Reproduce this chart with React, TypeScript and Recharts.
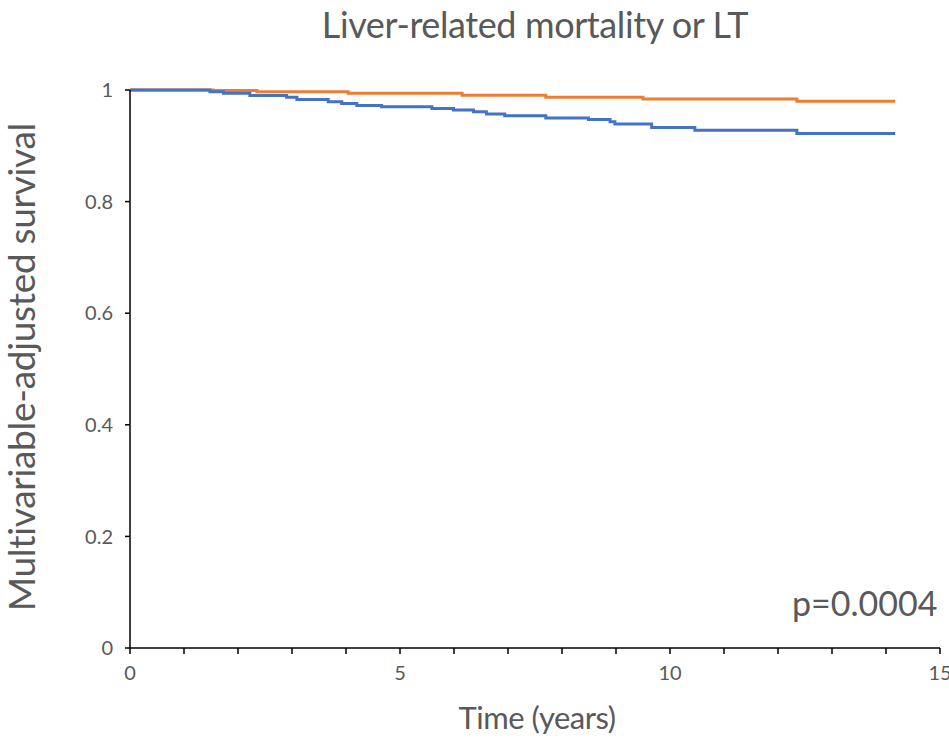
import React from 'react';
import { LineChart, Line, XAxis, YAxis } from 'recharts';

// Kaplan-Meier style step curves (time in years, survival)
const orangeTimes = [0, 1.54, 2.35, 4.04, 6.15, 7.7, 9.5, 12.35, 14.17];
const orangeSurv = [1, 0.999, 0.997, 0.994, 0.9905, 0.987, 0.984, 0.98, 0.98];

const blueTimes = [0, 1.48, 1.73, 2.22, 2.9, 3.09, 3.67, 3.92, 4.2, 4.66, 5.59, 5.99, 6.36, 6.6, 6.94, 7.7, 8.49, 8.89, 8.98, 9.66, 10.46, 12.35, 14.17];
const blueSurv = [1, 0.997, 0.994, 0.99, 0.987, 0.983, 0.979, 0.976, 0.972, 0.97, 0.967, 0.964, 0.961, 0.957, 0.954, 0.95, 0.947, 0.943, 0.939, 0.933, 0.928, 0.922, 0.922];

const xTicks = [0, 1, 2, 3, 4, 5, 6, 7, 8, 9, 10, 11, 12, 13, 14, 15];
const yTicks = [0, 0.2, 0.4, 0.6, 0.8, 1];

const orangeData = orangeTimes.map((t, i) => ({ t, s: orangeSurv[i] }));
const blueData = blueTimes.map((t, i) => ({ t, s: blueSurv[i] }));

const FONT = 'Lato, "Open Sans", sans-serif';
const GREY = '#595959';

const App: React.FC = () => {
  return (
    <div style={{ position: 'absolute', left: 0, top: 0, width: 949, height: 742, background: '#fff', fontFamily: FONT, overflow: 'hidden' }}>
      <LineChart width={949} height={742} margin={{ top: 90, right: 9, left: 70, bottom: 54 }}>
        <XAxis
          type="number"
          dataKey="t"
          domain={[0, 15]}
          ticks={xTicks}
          interval={0}
          tickFormatter={(v: number) => (v % 5 === 0 ? String(v) : '')}
          stroke="#000"
          strokeWidth={1.5}
          tickSize={6}
          height={40}
          tick={{ fill: GREY, fontSize: 20, fontFamily: FONT, dy: 10 }}
          allowDataOverflow
        />
        <YAxis
          type="number"
          dataKey="s"
          domain={[0, 1]}
          ticks={yTicks}
          interval={0}
          tickFormatter={(v: number) => (v === 0 || v === 1 ? String(v) : v.toFixed(1))}
          stroke="#000"
          strokeWidth={1.5}
          tickSize={5}
          width={60}
          tick={{ fill: GREY, fontSize: 20, fontFamily: FONT, dx: -10 }}
        />
        <Line data={orangeData} dataKey="s" type="stepAfter" stroke="#ED7D31" strokeWidth={3} dot={false} isAnimationActive={false} />
        <Line data={blueData} dataKey="s" type="stepAfter" stroke="#4472C4" strokeWidth={3} dot={false} isAnimationActive={false} />
      </LineChart>

      <div style={{ position: 'absolute', left: 0, width: 1070, top: 2, textAlign: 'center', fontSize: 36, color: GREY, letterSpacing: -0.4 }}>
        Liver-related mortality or LT
      </div>
      <div style={{ position: 'absolute', left: 0, width: 1074, top: 698, textAlign: 'center', fontSize: 31, color: GREY, letterSpacing: -0.5 }}>
        Time (years)
      </div>
      {/* rotated y axis title, laid out vertically so its box stays in the page */}
      <div
        style={{
          position: 'absolute',
          left: 2,
          top: 90,
          width: 37,
          height: 554,
          display: 'flex',
          alignItems: 'center',
          justifyContent: 'center',
        }}
      >
        <div
          style={{
            writingMode: 'vertical-rl',
            transform: 'rotate(180deg)',
            whiteSpace: 'nowrap',
            fontSize: 37,
            lineHeight: 1,
            color: GREY,
            letterSpacing: -0.3,
          }}
        >
          Multivariable-adjusted survival
        </div>
      </div>
      <div style={{ position: 'absolute', left: 792, top: 582, fontSize: 34, color: GREY }}>p=0.0004</div>
    </div>
  );
};

export default App;
